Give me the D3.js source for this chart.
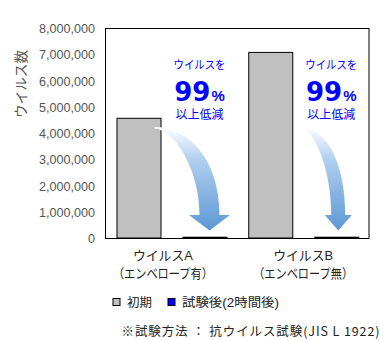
<!DOCTYPE html>
<html>
<head>
<meta charset="utf-8">
<script src="https://cdn.jsdelivr.net/npm/d3@7"></script>
<style>
  html, body { margin: 0; padding: 0; background: #fff; }
  svg { display: block; }
  text { font-family: "Liberation Sans", Arial, "Noto Sans CJK JP", sans-serif; }
  .jp { font-family: "Noto Sans CJK JP", sans-serif; }
</style>
</head>
<body>
<svg id="chart" width="391" height="340"></svg>
<script>
// Virus counts before and after 2 hours of contact
const categories = ["ウイルスA", "ウイルスB"];
const subLabels = ["（エンベロープ有）", "（エンベロープ無）"];
const seriesNames = ["初期", "試験後(2時間後)"];
const initialValues = [4560000, 7070000];
const afterValues = [30000, 30000];
const yTicks = [0, 1000000, 2000000, 3000000, 4000000, 5000000, 6000000, 7000000, 8000000];
const calloutTop = "ウイルスを";
const calloutValue = "99";
const calloutBottom = "以上低減";
const yTitle = "ウイルス数";
const footnote = "※試験方法 ： 抗ウイルス試験(JIS L 1922)";

const svg = d3.select("#chart");
const plot = { left: 105.5, right: 369, top: 28.5, bottom: 238.5 };

const x = d3.scaleBand().domain(categories).range([plot.left, plot.right]).paddingInner(0).paddingOuter(0);
const y = d3.scaleLinear().domain([0, 8000000]).range([plot.bottom - 0.5, plot.top - 0.5]);

// inner band for the two series within a category
const xs = d3.scaleBand().domain(seriesNames).range([0, x.bandwidth()]).paddingInner(0.33).paddingOuter(0.16);

const colors = { "初期": "#c0c0c0", "試験後(2時間後)": "#0000ff" };

// gradient for the reduction arrows
const defs = svg.append("defs");
const grad = defs.append("linearGradient").attr("id", "arrowGrad")
  .attr("x1", 0).attr("y1", 0).attr("x2", 0).attr("y2", 1);
grad.append("stop").attr("offset", "0").attr("stop-color", "#ffffff");
grad.append("stop").attr("offset", "0.3").attr("stop-color", "#b3d0ee");
grad.append("stop").attr("offset", "0.7").attr("stop-color", "#80afe0");
grad.append("stop").attr("offset", "1").attr("stop-color", "#5d98d5");

// y axis labels (no tick marks, no axis line)
const yAxis = d3.axisLeft(y).tickValues(yTicks).tickSize(0).tickPadding(0)
  .tickFormat(d3.format(","));
const yg = svg.append("g").attr("transform", `translate(${plot.left - 10.5},0)`).call(yAxis);
yg.select(".domain").remove();
yg.selectAll("text")
  .style("font-family", "'Liberation Sans', Arial, sans-serif")
  .style("font-size", "12.6px").attr("fill", "#555").attr("dy", "0.36em");

// y axis title
svg.append("text").attr("class", "jp")
  .attr("transform", `translate(20,84) rotate(-90)`)
  .attr("text-anchor", "middle").attr("dominant-baseline", "central")
  .attr("font-size", "13.5px").attr("fill", "#555")
  .attr("textLength", 68).attr("lengthAdjust", "spacingAndGlyphs").text(yTitle);

// bars
const rows = categories.map((c, i) => ({ cat: c, values: [initialValues[i], afterValues[i]] }));
const groups = svg.append("g").selectAll("g").data(rows).join("g")
  .attr("transform", d => `translate(${x(d.cat)},0)`);
groups.selectAll("rect").data(d => d.values.map((v, j) => ({ name: seriesNames[j], v })))
  .join("rect")
  .attr("x", d => Math.round(xs(d.name)) + 0.5)
  .attr("y", d => y(d.v))
  .attr("width", Math.round(xs.bandwidth()))
  .attr("height", d => y(0) - y(d.v))
  .attr("fill", d => colors[d.name])
  .attr("stroke", "#000").attr("stroke-width", 1);

// plot frame
svg.append("rect")
  .attr("x", plot.left).attr("y", plot.top)
  .attr("width", plot.right - plot.left).attr("height", plot.bottom - plot.top)
  .attr("fill", "none").attr("stroke", "#000").attr("stroke-width", 1);

// callouts and arrows
function arrowPath(sx, sy, tx, ty, w, hw, hl) {
  const yb = ty - hl, xR = tx + w, xL = tx - w;
  return `M${sx},${sy}` +
    `C${sx + (xR - sx) * 0.5},${sy} ${xR},${sy + (yb - sy) * 0.35} ${xR},${yb}` +
    `L${tx + hw},${yb} L${tx},${ty} L${tx - hw},${yb} L${xL},${yb}` +
    `C${xL},${sy + (yb - sy) * 0.45} ${sx + (xL - sx) * 0.4},${sy + 2} ${sx},${sy + 1.5}Z`;
}

const arrowSpecs = [
  { dxStart: -6, dxTip: 5, w: 10, hw: 20.5, hl: 15.5 },
  { dxStart: 9, dxTip: 2, w: 7, hw: 13.5, hl: 15.5 }
];

rows.forEach((d, i) => {
  const gx = x(d.cat);
  const initRight = gx + Math.round(xs(seriesNames[0])) + Math.round(xs.bandwidth());
  const afterCenter = gx + Math.round(xs(seriesNames[1])) + Math.round(xs.bandwidth()) / 2;
  const cx = afterCenter - 5;
  const t = svg.append("g").attr("fill", "#0000ff").attr("text-anchor", "middle");
  t.append("text").attr("class", "jp").attr("x", cx).attr("y", 64).attr("dominant-baseline", "central")
    .attr("font-size", "11.5px").attr("textLength", 52).attr("lengthAdjust", "spacingAndGlyphs").text(calloutTop);
  const big = t.append("text").attr("x", cx).attr("y", 101);
  big.append("tspan").style("font-family", "'DejaVu Sans', sans-serif").attr("font-weight", "bold")
    .attr("font-size", "26px").text(calloutValue);
  big.append("tspan").style("font-family", "'Liberation Sans', Arial, sans-serif").attr("font-weight", "bold")
    .attr("dx", 1).attr("font-size", "15px").text("%");
  t.append("text").attr("class", "jp").attr("x", cx).attr("y", 113.5).attr("dominant-baseline", "central")
    .attr("font-size", "12px").attr("textLength", 48).attr("lengthAdjust", "spacingAndGlyphs").text(calloutBottom);

  const s = arrowSpecs[i];
  svg.append("path")
    .attr("d", arrowPath(initRight + s.dxStart, 127, afterCenter + s.dxTip, y(0) - 7.5, s.w, s.hw, s.hl))
    .attr("fill", "url(#arrowGrad)");
});

// category labels
const catG = svg.append("g").attr("class", "jp").attr("text-anchor", "middle").attr("fill", "#222");
categories.forEach((c, i) => {
  const cx = x(c) + x.bandwidth() / 2 + (i === 0 ? -8.5 : 0);
  catG.append("text").attr("x", cx).attr("y", 255).attr("dominant-baseline", "central")
    .attr("font-size", "13px").attr("textLength", 60).attr("lengthAdjust", "spacingAndGlyphs").text(c);
  catG.append("text").attr("x", cx).attr("y", 273).attr("dominant-baseline", "central")
    .attr("font-size", "13px").attr("textLength", 100).attr("lengthAdjust", "spacingAndGlyphs").text(subLabels[i]);
});

// legend
const legend = svg.append("g").attr("class", "jp");
const legendX = [112.5, 167.5];
const legendLen = [25, 97];
seriesNames.forEach((n, i) => {
  legend.append("rect").attr("x", legendX[i] + 0.5).attr("y", 298.5).attr("width", 7).attr("height", 7)
    .attr("fill", colors[n]).attr("stroke", "#000").attr("stroke-width", 1);
  legend.append("text").attr("x", legendX[i] + 14.5).attr("y", 302.5).attr("dominant-baseline", "central")
    .attr("font-size", "12.5px").attr("fill", "#222")
    .attr("textLength", legendLen[i]).attr("lengthAdjust", "spacingAndGlyphs").text(n);
});

// footnote
svg.append("text").attr("class", "jp").attr("x", 121.5).attr("y", 330).attr("dominant-baseline", "central")
  .attr("font-size", "12.5px").attr("fill", "#222")
  .attr("textLength", 258).attr("lengthAdjust", "spacing").text(footnote);
</script>
</body>
</html>
